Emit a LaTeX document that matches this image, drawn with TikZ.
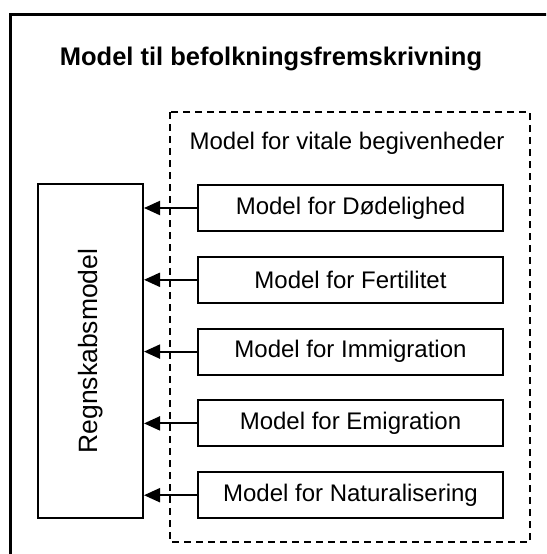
\documentclass[tikz,border=0pt]{standalone}
\usepackage{fontspec}
\setmainfont{Liberation Sans}
\usetikzlibrary{arrows.meta,positioning}

\begin{document}
\begin{tikzpicture}[x=1pt,y=-1pt,
            frame/.style={draw,line width=3pt},
            group/.style={draw,line width=1.5pt,dash pattern=on 7pt off 5pt},
            model/.style={draw,rectangle,line width=2pt,minimum width=305pt,minimum height=46pt,
              font=\fontsize{24}{28}\selectfont,node distance=23.8pt},
            account/.style={draw,rectangle,line width=2pt,minimum width=334pt,minimum height=105pt,
              rotate=90,font=\fontsize{26.5}{30}\selectfont},
            lab/.style={anchor=base,font=\fontsize{24}{28}\selectfont},
            head/.style={anchor=base,font=\fontsize{25.5}{30}\selectfont\bfseries},
            feed/.style={draw,line width=2pt,-{Triangle[length=16pt,width=14pt]}}
          ]
          \useasboundingbox (0,0) rectangle (546,554);
          \clip (0,0) rectangle (546,554);

          %frames
          \path[frame] (10.5,14.5) rectangle (600,600);
          \path[group] (170,112) rectangle (530,542);

          %labels
          \node[head] (title) at (271,65) {Model til befolkningsfremskrivning};
          \node[lab] (vital) at (347,149) {Model for vitale begivenheder};

          %sub models
          \node[model] (dod) at (350.5,208) {Model for Dødelighed};
          \node[model,below=of dod] (fert) {Model for Fertilitet};
          \node[model,below=of fert] (imm) {Model for Immigration};
          \node[model,below=of imm] (emi) {Model for Emigration};
          \node[model,below=of emi] (nat) {Model for Naturalisering};

          %accounting model (rotated, so its south side faces right)
          \node[account] (acc) at (90.5,351) {Regnskabsmodel};

          \path[feed] (dod.west) -- (dod.west -| acc.south);
          \path[feed] (fert.west) -- (fert.west -| acc.south);
          \path[feed] (imm.west) -- (imm.west -| acc.south);
          \path[feed] (emi.west) -- (emi.west -| acc.south);
          \path[feed] (nat.west) -- (nat.west -| acc.south);

      \end{tikzpicture}
\end{document}
